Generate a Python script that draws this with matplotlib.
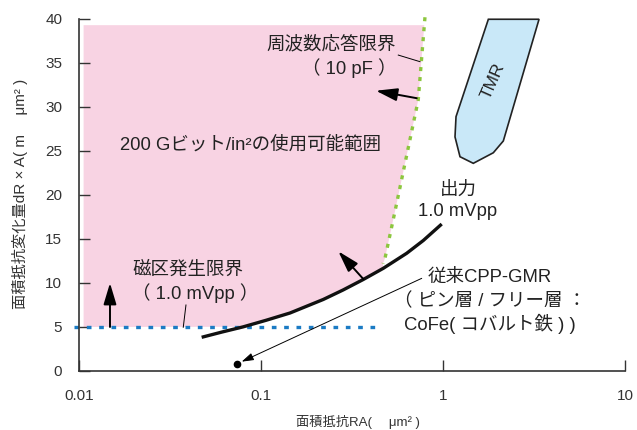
import numpy as np
import matplotlib
matplotlib.use('Agg')
import matplotlib.pyplot as plt

plt.rcParams['font.family'] = ['Liberation Sans', 'Noto Sans CJK JP', 'DejaVu Sans']

# Output curve 1.0 mVpp (RA, dR*A)
out_x = [0.0472, 0.0611, 0.0799, 0.1065, 0.1443, 0.2199, 0.2821, 0.3648, 0.4699, 0.6318, 0.7793, 0.9838]
out_y = [3.83, 4.43, 5.02, 5.76, 6.59, 8.13, 9.20, 10.40, 11.67, 13.38, 14.83, 16.70]

# Frequency response limit (10 pF), green dotted
freq_x = [0.796, 0.731, 0.548, 0.480, 0.468]
freq_y = [40.2, 30.8, 18.4, 12.8, 12.2]

# Magnetic domain limit, blue dashed at 5
domain_x = [0.0094, 0.441]
domain_y = [5.0, 5.0]

# usable region bounds
pink_left = 0.0106
pink_top = 39.3
pink_bottom = 5.0

# TMR outline
tmr_x = [1.775, 3.37, 2.145, 1.89, 1.467, 1.240, 1.164, 1.179]
tmr_y = [39.97, 39.97, 26.14, 24.8, 23.6, 24.35, 26.6, 28.9]

# conventional CPP-GMR point
gmr_x = [0.0735]
gmr_y = [0.76]

xticks = [0.01, 0.1, 1, 10]
xticklabels = ['0.01', '0.1', '1', '10']
yticks = [0, 5, 10, 15, 20, 25, 30, 35, 40]

fig = plt.figure(figsize=(6.37, 4.3), dpi=100)
ax = fig.add_axes([79/637, 1 - 371/430, 546/637, 352/430])
ax.set_xscale('log')
ax.set_xlim(0.01, 10)
ax.set_ylim(0, 40)

# pink usable area
lx, ly = np.log10(freq_x[::-1]), freq_y[::-1]
top_right = 10 ** np.interp(pink_top, ly, lx)
px = [pink_left, top_right] + [x for x, y in zip(freq_x, freq_y) if y < pink_top]
py = [pink_top, pink_top] + [y for y in freq_y if y < pink_top]
seg = [(x, y) for x, y in zip(out_x, out_y) if y >= pink_bottom and x <= freq_x[-1] + 0.01]
px += [x for x, y in seg[::-1]] + [pink_left]
py += [y for x, y in seg[::-1]] + [pink_bottom]
ax.fill(px, py, color='#f8d3e3', lw=0, zorder=0)

ax.plot(out_x, out_y, color='#111111', lw=2.4, solid_capstyle='butt', solid_joinstyle='round', zorder=3)
ax.plot(freq_x, freq_y, color='#8cc63e', lw=2.4, dashes=(1.2, 1.8), clip_on=False, zorder=2)
ax.plot(domain_x, domain_y, color='#1b7bc4', lw=2.4, dashes=(1.4, 2.3), clip_on=False, zorder=2)

ax.fill(tmr_x, tmr_y, facecolor='#c9e8f8', edgecolor='#222222', lw=1.2, clip_on=False, zorder=2)
ax.text(1.888, 32.9, 'TMR', rotation=66, fontsize=12.5, ha='center', va='center', color='#222222')

ax.plot(gmr_x, gmr_y, 'o', color='black', ms=4.5, clip_on=False, zorder=4)

black_arrow = dict(arrowstyle='-|>,head_length=1.0,head_width=0.3', mutation_scale=13,
                   lw=1.4, color='black', shrinkA=0, shrinkB=0)
ax.annotate('', xy=(0.0148, 10.0), xytext=(0.0148, 5.0), arrowprops=black_arrow, zorder=4)
ax.annotate('', xy=(0.428, 31.85), xytext=(0.717, 31.0), arrowprops=black_arrow, zorder=4)
ax.annotate('', xy=(0.266, 13.6), xytext=(0.365, 10.45), arrowprops=black_arrow, zorder=4)
ax.annotate('', xy=(0.0783, 1.06), xytext=(0.764, 10.53),
            arrowprops=dict(arrowstyle='-|>,head_length=0.8,head_width=0.25', mutation_scale=9,
                            lw=0.7, color='black', shrinkA=0, shrinkB=0), zorder=4)

# leader lines
ax.plot([0.0387, 0.0374], [7.5, 4.97], color='black', lw=0.7)
ax.plot([0.568, 0.7475], [35.9, 35.15], color='black', lw=0.7)

fs = 13.3
tc = '#222222'
ax.text(0.01954, 11.48, '磁区発生限界', fontsize=fs, ha='left', va='center', color=tc)
ax.text(0.01954, 8.83, '（ 1.0 mVpp ）', fontsize=fs, ha='left', va='center', color=tc)
ax.text(0.5518, 37.05, '周波数応答限界', fontsize=fs, ha='right', va='center', color=tc)
ax.text(0.5518, 34.4, '（ 10 pF ）', fontsize=fs, ha='right', va='center', color=tc)
ax.text(0.0168, 25.68, '200 Gビット/in²の使用可能範囲', fontsize=fs, ha='left', va='center', color=tc)
ax.text(1.209, 20.57, '出力', fontsize=fs, ha='center', va='center', color=tc)
ax.text(1.209, 18.1, '1.0 mVpp', fontsize=fs, ha='center', va='center', color=tc)
ax.text(1.812, 10.65, '従来CPP-GMR', fontsize=fs, ha='center', va='center', color=tc)
ax.text(1.812, 7.875, '（ ピン層 / フリー層 ：', fontsize=fs, ha='center', va='center', color=tc)
ax.text(1.812, 5.34, 'CoFe( コバルト鉄 ) )', fontsize=fs, ha='center', va='center', color=tc)

for s in ['top', 'right']:
    ax.spines[s].set_visible(False)
for s in ['left', 'bottom']:
    ax.spines[s].set_linewidth(1.2)
    ax.spines[s].set_color('#333333')

ax.set_xticks(xticks)
ax.set_xticklabels(xticklabels)
ax.xaxis.set_minor_locator(matplotlib.ticker.NullLocator())
ax.set_yticks(yticks)
ax.tick_params(direction='in', length=8, width=1.0, color='#333333',
               labelsize=11, labelcolor='#333333')
ax.tick_params(axis='y', pad=12)
ax.tick_params(axis='x', pad=13)

ax.set_xlabel('面積抵抗RA(　 μm² )', fontsize=9.5, color='#333333')
ax.xaxis.set_label_coords(0.511, -0.145)
ax.xaxis.label.set_va('center')
ax.set_ylabel('面積抵抗変化量dR × A( m　 μm² )', fontsize=11, color='#333333')
ax.yaxis.set_label_coords(-0.108, 0.503)
ax.yaxis.label.set_va('center')

fig.savefig('out.png', dpi=100)
